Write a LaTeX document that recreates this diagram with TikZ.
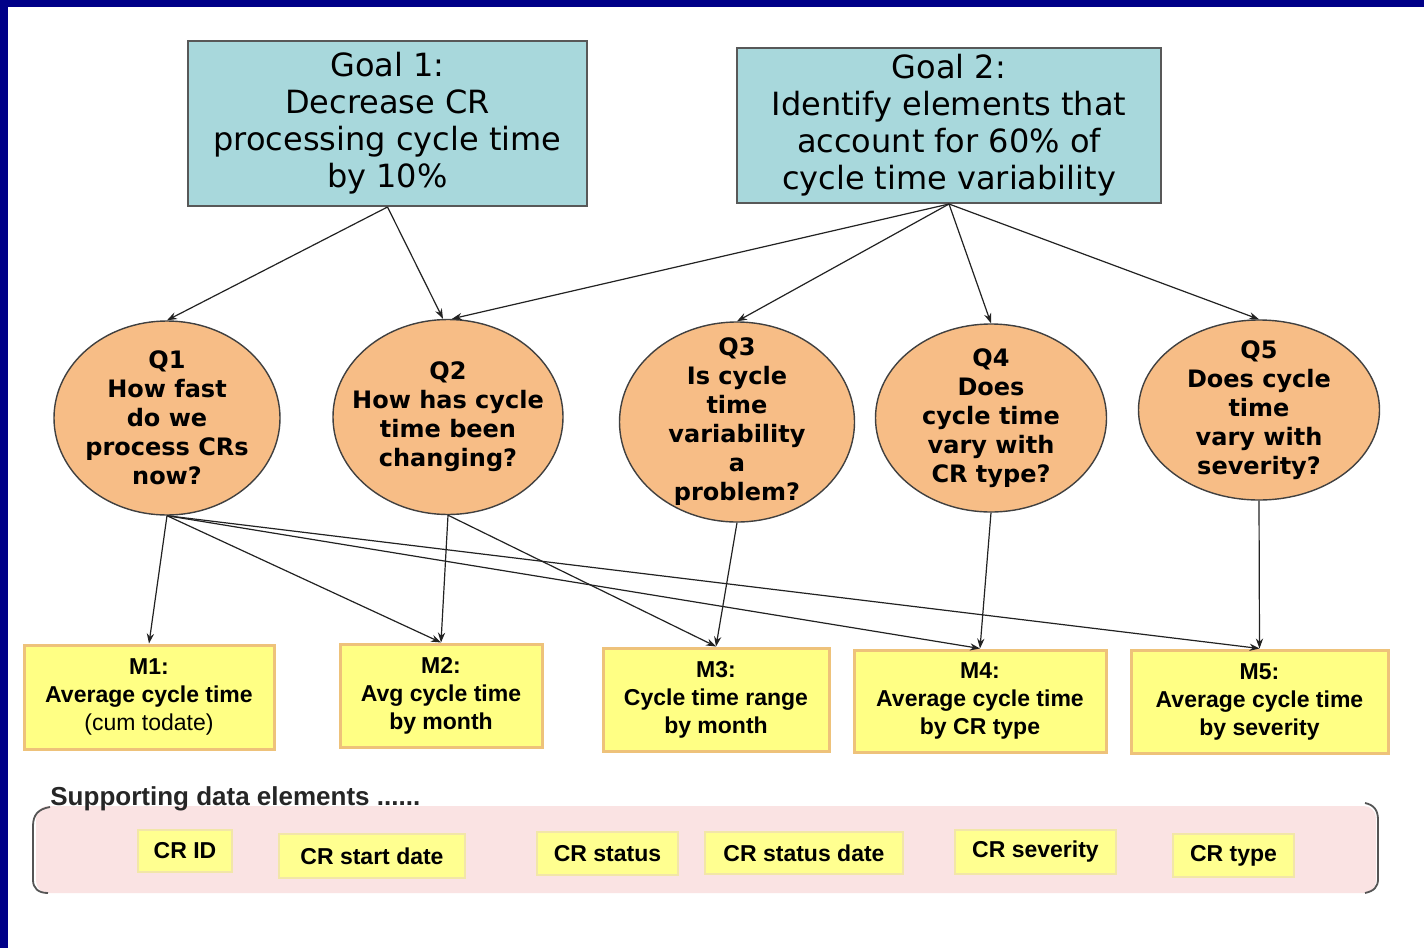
\documentclass[tikz,border=0pt]{standalone}
\usepackage{fontspec}
\usetikzlibrary{shapes.geometric,arrows.meta}
\newfontfamily\comic{DejaVu Sans}
\newfontfamily\arial{Liberation Sans}
\definecolor{bandblue}{HTML}{000088}
\definecolor{goalfill}{HTML}{A8D8DC}
\definecolor{goalborder}{HTML}{585858}
\definecolor{qfill}{HTML}{F7BD86}
\definecolor{qborder}{HTML}{404040}
\definecolor{mfill}{HTML}{FFFF84}
\definecolor{mborder}{HTML}{EEC27A}
\definecolor{dfill}{HTML}{FFFF90}
\definecolor{dborder}{HTML}{F2E6A8}
\definecolor{pinkfill}{HTML}{FAE3E3}
\definecolor{bracketcol}{HTML}{555555}
\definecolor{arrowcol}{HTML}{222222}
\tikzset{
  goalbox/.style={draw=goalborder, line width=1pt, fill=goalfill, align=center, inner sep=0pt,
    font=\comic\fontsize{16}{18.5}\selectfont},
  qshape/.style={ellipse, draw=qborder, line width=0.7pt, fill=qfill, inner sep=0pt},
  qtext/.style={align=center, inner sep=0pt, font=\comic\bfseries\fontsize{12}{14.5}\selectfont},
  mbox/.style={draw=mborder, line width=1.5pt, fill=mfill, align=center, inner sep=0pt,
    font=\arial\bfseries\fontsize{11.5}{14}\selectfont},
  dbox/.style={draw=dborder, line width=0.8pt, fill=dfill, inner sep=0pt,
    font=\arial\bfseries\fontsize{11.5}{14}\selectfont},
  arr/.style={-{Stealth[length=5pt,width=3.6pt]}, line width=0.6pt, draw=arrowcol},
}
\begin{document}
\begin{tikzpicture}[x=0.5pt,y=-0.5pt]
\useasboundingbox (0,0) rectangle (1424,948);
\fill[white] (0,0) rectangle (1424,948);
\fill[bandblue] (0,0) rectangle (1424,7);
\fill[bandblue] (0,0) rectangle (8,948);

% Goals
\node[goalbox, minimum width=199.5pt, minimum height=82.5pt] (g1) at (387.5,123.5)
  {Goal 1:\\Decrease CR\\processing cycle time\\by 10\%};
\node[goalbox, minimum width=212pt, minimum height=77.5pt] (g2) at (949,125.5)
  {Goal 2:\\Identify elements that\\account for 60\% of\\cycle time variability};

% Questions
\node[qshape, minimum width=113pt, minimum height=97pt] (q1) at (167,418) {};
\node[qtext] (q1t) at (q1) {Q1\\How fast\\do we\\process CRs\\now?};
\node[qshape, minimum width=115pt, minimum height=97.5pt] (q2) at (448,417) {};
\node[qtext] (q2t) at (q2) {Q2\\How has cycle\\time been\\changing?};
\node[qshape, minimum width=117.5pt, minimum height=100pt] (q3) at (737,422) {};
\node[qtext] (q3t) at (q3) {Q3\\Is cycle\\time\\variability\\a\\problem?};
\node[qshape, minimum width=115.5pt, minimum height=94pt] (q4) at (991,418) {};
\node[qtext] (q4t) at (q4) {Q4\\Does\\cycle time\\vary with\\CR type?};
\node[qshape, minimum width=120.5pt, minimum height=90pt] (q5) at (1259,410) {};
\node[qtext] (q5t) at (q5) {Q5\\Does cycle\\time\\vary with\\severity?};

% Metrics
\node[mbox, minimum width=125pt, minimum height=52pt] (m1) at (149,697)
  {M1:\\Average cycle time\\{\mdseries (cum todate)}};
\node[mbox, minimum width=101pt, minimum height=51.5pt] (m2) at (441,695.5)
  {M2:\\Avg cycle time\\by month};
\node[mbox, minimum width=113pt, minimum height=51.5pt] (m3) at (716,699.5)
  {M3:\\Cycle time range\\by month};
\node[mbox, minimum width=126pt, minimum height=51pt] (m4) at (980,701)
  {M4:\\Average cycle time\\by CR type};
\node[mbox, minimum width=128.5pt, minimum height=51.5pt] (m5) at (1259.5,701.5)
  {M5:\\Average cycle time\\by severity};

% Goal -> Question
\draw[arr] (g1.south) -- (q1.north);
\draw[arr] (g1.south) -- ([xshift=-2.5pt]q2.north);
\draw[arr] (g2.south) -- ([xshift=2pt]q2.north);
\draw[arr] (g2.south) -- (q3.north);
\draw[arr] (g2.south) -- (q4.north);
\draw[arr] (g2.south) -- (q5.north);

% Question -> Metric
\draw[arr] (q1.south) -- (m1.north);
\draw[arr] (q1.south) -- (m2.north);
\draw[arr] (q1.south) -- (m4.north);
\draw[arr] (q1.south) -- (m5.north);
\draw[arr] (q2.south) -- (m2.north);
\draw[arr] (q2.south) -- (m3.north);
\draw[arr] (q3.south) -- (m3.north);
\draw[arr] (q4.south) -- (m4.north);
\draw[arr] (q5.south) -- (m5.north);

% Supporting data elements
\fill[pinkfill, rounded corners=6pt] (36,806) rectangle (1376,893);
\draw[bracketcol, line width=0.9pt] (50,807) .. controls (38,809) and (33,815) .. (33,826)
  -- (33,880) .. controls (33,888) and (38,893) .. (48,893);
\draw[bracketcol, line width=0.9pt] (1365,803) .. controls (1374,805) and (1378,810) .. (1378,820)
  -- (1378,879) .. controls (1378,887) and (1374,891) .. (1365,893);
\node[anchor=base west, inner sep=0pt, font=\arial\bfseries\fontsize{13}{15}\selectfont,
  text=black!85] (sde) at (50,805) {Supporting data elements ......};

\node[dbox, minimum width=47pt, minimum height=21pt] (d1) at (185,851) {CR ID};
\node[dbox, minimum width=93pt, minimum height=22pt] (d2) at (372,856) {CR start date};
\node[dbox, minimum width=70.5pt, minimum height=21.5pt] (d3) at (607.5,853.5) {CR status};
\node[dbox, minimum width=99pt, minimum height=21pt] (d4) at (804,853) {CR status date};
\node[dbox, minimum width=80.5pt, minimum height=22pt] (d5) at (1035.5,852) {CR severity};
\node[dbox, minimum width=60.5pt, minimum height=21.5pt] (d6) at (1233.5,855.5) {CR type};
\end{tikzpicture}
\end{document}
